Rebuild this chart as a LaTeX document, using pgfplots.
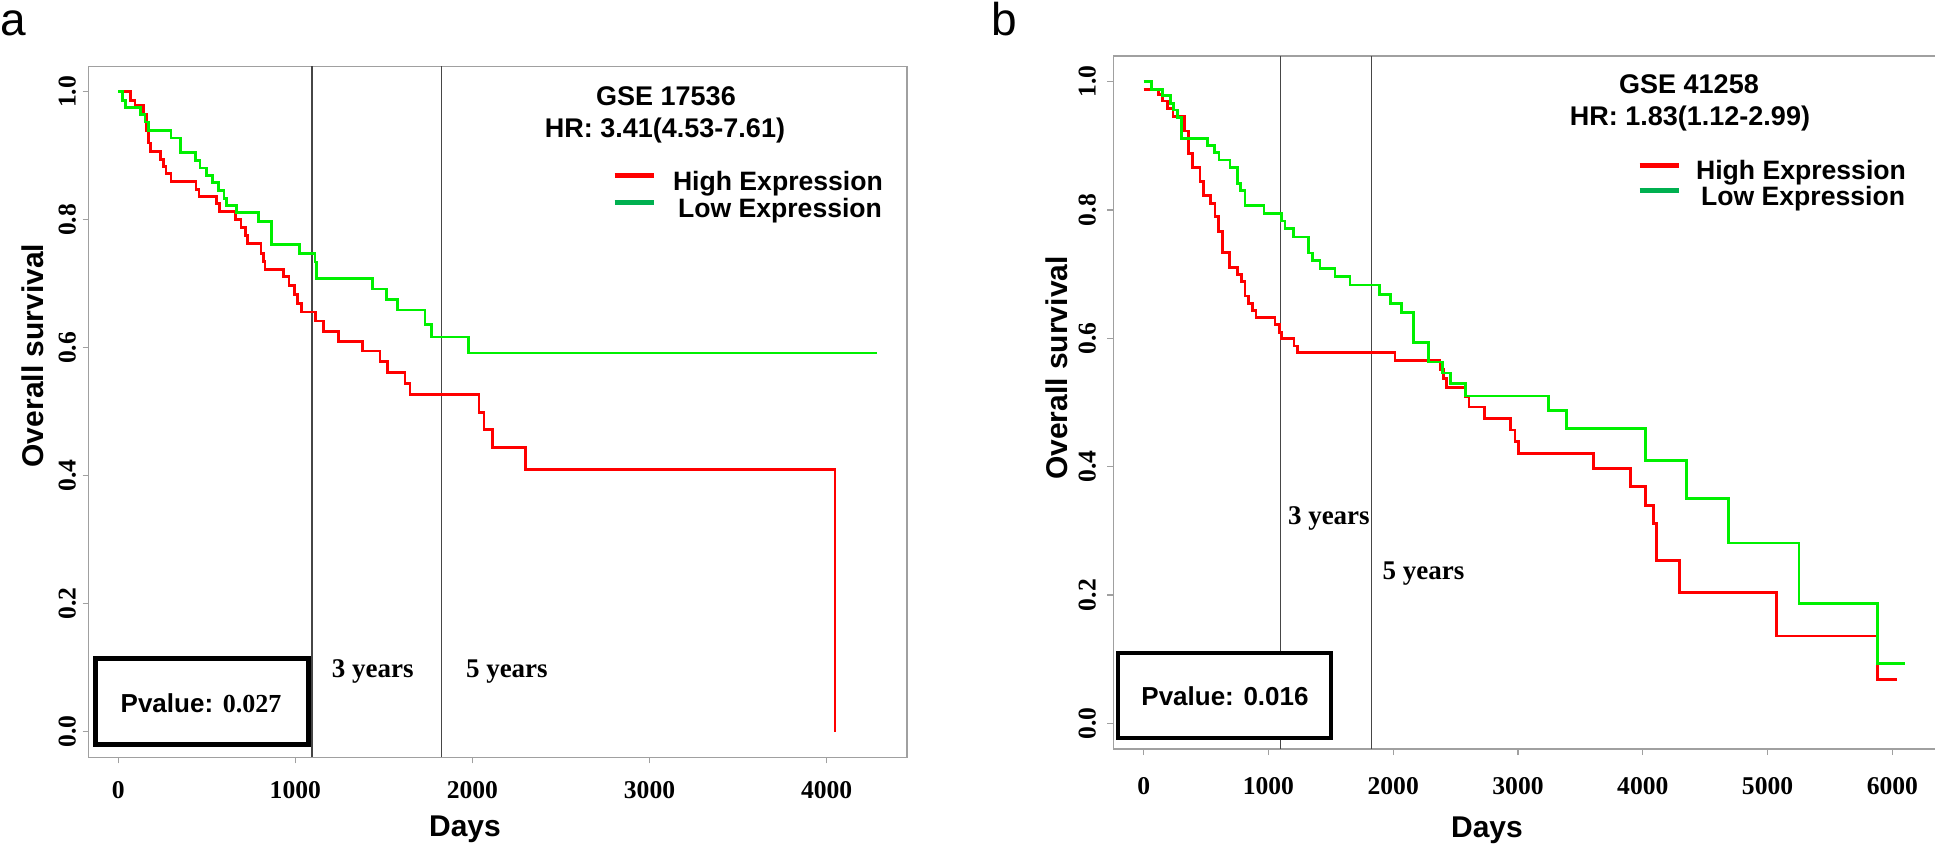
\documentclass[border=0pt]{standalone}
\usepackage{fontspec}
\setmainfont{Liberation Sans}
\newfontfamily\tnr{Liberation Serif}
\usepackage{pgfplots}
\pgfplotsset{compat=1.18}
\definecolor{kmred}{RGB}{255,0,0}
\definecolor{kmgreen}{RGB}{0,240,0}
\definecolor{leggreen}{RGB}{0,176,80}
\definecolor{framegray}{RGB}{160,160,160}
\definecolor{yeargray}{RGB}{70,70,70}

\pgfplotsset{
 kmaxis/.style={
  scale only axis,
  ymin=-0.04, ymax=1.04,
  ytick={0,0.2,0.4,0.6,0.8,1},
  yticklabels={0.0,0.2,0.4,0.6,0.8,1.0},
  tick align=outside,
  xtick pos=left, ytick pos=left,
  major tick length=3pt,
  minor tick num=0,
  axis line style={draw=framegray, line width=0.6pt},
  tick style={draw=framegray, line width=0.6pt},
  /pgf/number format/assume math mode=true,
  ticklabel style={font=\tnr\bfseries\fontsize{12.8}{14}\selectfont, inner sep=0pt},
  xticklabel style={anchor=base},
  label style={font=\bfseries\fontsize{15}{17}\selectfont, inner sep=0pt},
  xlabel={Days}, ylabel={Overall survival},
  legend cell align=left,
  legend image code/.code={\draw[#1] (0pt,4.8pt) -- (19.5pt,4.8pt);},
 }
}

\begin{document}
\begin{tikzpicture}
\useasboundingbox (0pt,0pt) rectangle (967.5pt,-422.5pt);

% ---------------- panel a ----------------
\begin{axis}[kmaxis,
  at={(44.25pt,-378.65pt)}, anchor=south west,
  width=409.25pt, height=345.5pt,
  xmin=-168, xmax=4454,
  xtick={0,1000,2000,3000,4000},
  xticklabels={0,1000,2000,3000,4000},
  xticklabel style={yshift=-17.5pt},
  yticklabel style={xshift=-3.4pt, rotate=90, anchor=base},
  xlabel style={at={(axis description cs:0.46,-0.1149)}, anchor=base},
  ylabel style={at={(axis description cs:-0.0552,0.5813)}, anchor=base},
  legend style={draw=none, fill=none, inner sep=0pt, outer sep=0pt,
    at={(0.6396,0.8456)}, anchor=north west, row sep=2.7pt, column sep=8.5pt,
    font=\bfseries\fontsize{13.3}{14}\selectfont,
    nodes={inner sep=0pt, text height=0.75em, text depth=0.25em}},
]
\addplot[yeargray, line width=0.75pt, forget plot] coordinates {(1095,-0.04) (1095,1.04)};
\addplot[yeargray, line width=0.75pt, forget plot] coordinates {(1825,-0.04) (1825,1.04)};
% High expression
\addplot[kmred, line width=1.4pt, const plot, forget plot] coordinates {
(0,1.0) (70,0.987) (95,0.979) (142,0.965) (160,0.94) (172,0.92) (183,0.907)
(240,0.894) (255,0.883) (270,0.872) (298,0.86) (439,0.848) (456,0.837)
(556,0.826) (571,0.813) (660,0.8) (693,0.788) (718,0.775) (729,0.763)
(806,0.748) (819,0.735) (829,0.723) (932,0.711) (964,0.697) (993,0.683)
(1012,0.669) (1036,0.656) (1115,0.642) (1158,0.626) (1243,0.61) (1380,0.595)
(1478,0.578) (1521,0.561) (1619,0.544) (1648,0.527) (2037,0.499) (2065,0.472)
(2114,0.444) (2300,0.41) (4047,0)
};
% Low expression
\addplot[kmgreen, line width=1.4pt, const plot, forget plot] coordinates {
(0,1.0) (23,0.987) (42,0.975) (127,0.965) (151,0.953) (170,0.94) (298,0.928)
(353,0.905) (434,0.893) (462,0.881) (500,0.869) (533,0.858) (566,0.846)
(597,0.834) (612,0.822) (669,0.811) (791,0.798) (867,0.761) (1023,0.748)
(1111,0.734) (1121,0.708) (1437,0.692) (1516,0.675) (1576,0.659) (1732,0.637)
(1770,0.617) (1977,0.592) (4282,0.592)
};
\draw[black, line width=2.2pt, fill=white] (axis cs:-128,0.1147) rectangle (axis cs:1075,-0.02);
\addlegendimage{kmred, line width=2.5pt}
\addlegendentry{High Expression}
\addlegendimage{leggreen, line width=2.5pt}
\addlegendentry{\hspace{2.5pt}Low Expression}
\end{axis}

% ---------------- panel b ----------------
\begin{axis}[kmaxis,
  at={(556.6pt,-374.5pt)}, anchor=south west,
  width=411.05pt, height=346.5pt,
  xmin=-244, xmax=6344,
  xtick={0,1000,2000,3000,4000,5000,6000},
  xticklabels={0,1000,2000,3000,4000,5000,6000},
  xticklabel style={yshift=-19.5pt},
  yticklabel style={xshift=-5.75pt, rotate=90, anchor=base},
  xlabel style={at={(axis description cs:0.4547,-0.128)}, anchor=base},
  ylabel style={at={(axis description cs:-0.055,0.5498)}, anchor=base},
  legend style={draw=none, fill=none, inner sep=0pt, outer sep=0pt,
    at={(0.6372,0.8463)}, anchor=north west, row sep=1.8pt, column sep=7.5pt,
    font=\bfseries\fontsize{13.3}{14}\selectfont,
    nodes={inner sep=0pt, text height=0.75em, text depth=0.25em}},
]
\addplot[yeargray, line width=0.75pt, forget plot] coordinates {(1095,-0.04) (1095,1.04)};
\addplot[yeargray, line width=0.75pt, forget plot] coordinates {(1825,-0.04) (1825,1.04)};
% High expression
\addplot[kmred, line width=1.4pt, const plot, forget plot] coordinates {
(0,0.988) (117,0.98) (152,0.97) (190,0.958) (235,0.946) (326,0.923) (360,0.888)
(390,0.866) (451,0.844) (478,0.822) (537,0.81) (571,0.79) (601,0.766)
(630,0.734) (686,0.711) (750,0.7) (785,0.688) (812,0.666) (838,0.654)
(870,0.644) (900,0.633) (1052,0.621) (1087,0.609) (1106,0.6) (1204,0.588)
(1231,0.578) (2014,0.565) (2374,0.551) (2401,0.538) (2428,0.523) (2580,0.509)
(2607,0.493) (2729,0.475) (2940,0.457) (2975,0.439) (3002,0.421) (3603,0.397)
(3902,0.369) (4022,0.34) (4084,0.312) (4110,0.254) (4292,0.204) (5072,0.136)
(5878,0.068) (6033,0.068)
};
% Low expression
\addplot[kmgreen, line width=1.4pt, const plot, forget plot] coordinates {
(0,1.0) (64,0.988) (152,0.978) (216,0.966) (238,0.956) (270,0.944) (304,0.912)
(510,0.9) (566,0.889) (603,0.878) (692,0.866) (750,0.841) (777,0.83)
(812,0.807) (964,0.795) (1106,0.783) (1132,0.771) (1199,0.758) (1319,0.733)
(1351,0.721) (1413,0.709) (1533,0.696) (1653,0.683) (1888,0.668) (1979,0.654)
(2067,0.64) (2160,0.594) (2281,0.563) (2396,0.546) (2460,0.529) (2580,0.51)
(3242,0.487) (3389,0.46) (4022,0.409) (4351,0.351) (4685,0.281) (5251,0.187)
(5881,0.093) (6100,0.093)
};
\draw[black, line width=2.2pt, fill=white] (axis cs:-204,0.1097) rectangle (axis cs:1499,-0.0226);
\addlegendimage{kmred, line width=2.5pt}
\addlegendentry{High Expression}
\addlegendimage{leggreen, line width=2.5pt}
\addlegendentry{\hspace{2.5pt}Low Expression}
\end{axis}

% ---------------- annotations (pixel units of the reference) ----------------
\begin{scope}[x=0.5pt, y=-0.5pt, every node/.style={inner sep=0pt, outer sep=0pt}]
\node[anchor=base west, font=\fontsize{23}{25}\selectfont] at (0,36) {a};
\node[anchor=base west, font=\fontsize{23}{25}\selectfont] at (991.7,36) {b};
% panel a
\node[anchor=base, font=\bfseries\fontsize{13.5}{15}\selectfont] at (666,106) {GSE 17536};
\node[anchor=base, font=\bfseries\fontsize{13.5}{15}\selectfont] at (665,137.3) {HR: 3.41(4.53-7.61)};
\node[anchor=base, font=\bfseries\fontsize{13}{15}\selectfont] at (201,712.7) {Pvalue: {\tnr 0.027}};
\node[anchor=base west, font=\tnr\bfseries\fontsize{13.5}{15}\selectfont] at (331.8,677.3) {3 years};
\node[anchor=base west, font=\tnr\bfseries\fontsize{13.5}{15}\selectfont] at (466,677.3) {5 years};
% panel b
\node[anchor=base, font=\bfseries\fontsize{13.5}{15}\selectfont] at (1689,94) {GSE 41258};
\node[anchor=base, font=\bfseries\fontsize{13.5}{15}\selectfont] at (1690,126) {HR: 1.83(1.12-2.99)};
\node[anchor=base, font=\bfseries\fontsize{13}{15}\selectfont] at (1225,705.7) {Pvalue: 0.016};
\node[anchor=base west, font=\tnr\bfseries\fontsize{13.5}{15}\selectfont] at (1288,524.3) {3 years};
\node[anchor=base west, font=\tnr\bfseries\fontsize{13.5}{15}\selectfont] at (1382.7,579) {5 years};
\end{scope}
\end{tikzpicture}
\end{document}
